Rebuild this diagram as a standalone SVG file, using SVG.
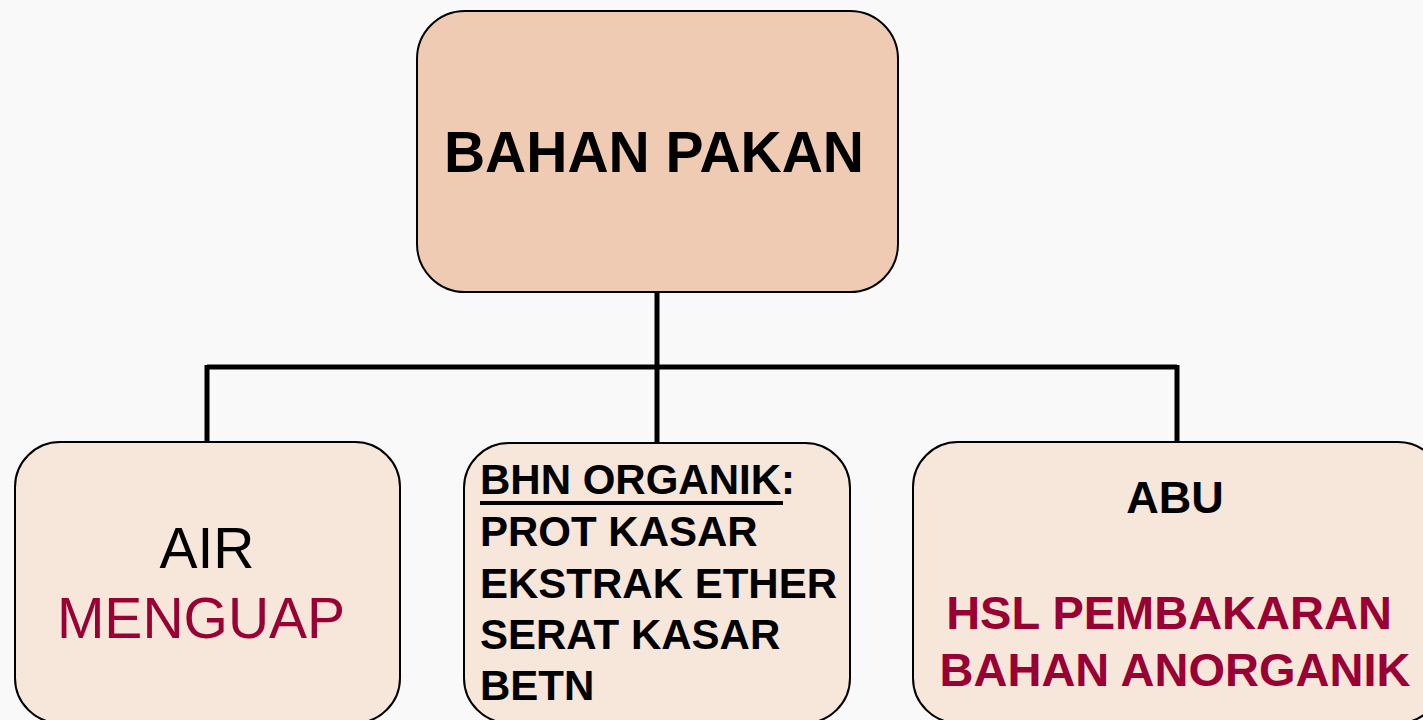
<svg xmlns="http://www.w3.org/2000/svg" width="1423" height="720" viewBox="0 0 1423 720">
<style>
.box{stroke:#000;stroke-width:2}
.top{fill:#f0cbb3}
.sub{fill:#f7e6da}
.conn{fill:none;stroke:#000;stroke-width:5}
text{font-family:"Liberation Sans",Arial,sans-serif}
.b{font-weight:bold}
.red{fill:#990033}
</style>
<rect x="0" y="0" width="1423" height="720" fill="#f9f9f9"/>
<g id="connectors">
<path class="conn" d="M657 292 V367 M207 367 H1177 M207 365 V443 M657 367 V443 M1177 365 V443"/>
</g>
<g id="bahan-pakan">
<rect class="box top" x="417" y="11" width="481" height="281" rx="48"/>
<text class="b" x="654" y="172" font-size="57" text-anchor="middle">BAHAN PAKAN</text>
</g>
<g id="air">
<rect class="box sub" x="15" y="442" width="385" height="281" rx="45"/>
<text x="207" y="568" font-size="57" text-anchor="middle">AIR</text>
<text class="red" x="201" y="638" font-size="57" text-anchor="middle">MENGUAP</text>
</g>
<g id="organik">
<rect class="box sub" x="464" y="443" width="386" height="280" rx="45"/>
<text class="b" font-size="42"><tspan x="480" y="494">BHN ORGANIK:</tspan><tspan x="480" y="546">PROT KASAR</tspan><tspan x="480" y="598">EKSTRAK ETHER</tspan><tspan x="480" y="649">SERAT KASAR</tspan><tspan x="480" y="700">BETN</tspan></text>
<rect x="480" y="501" width="303" height="4" fill="#000"/>
</g>
<g id="abu">
<rect class="box sub" x="913" y="442" width="530" height="281" rx="45"/>
<text class="b" x="1175" y="513" font-size="45" text-anchor="middle">ABU</text>
<text class="b red" x="1169" y="629" font-size="47" text-anchor="middle">HSL PEMBAKARAN</text>
<text class="b red" x="1175" y="686" font-size="47" text-anchor="middle">BAHAN ANORGANIK</text>
</g>
</svg>
